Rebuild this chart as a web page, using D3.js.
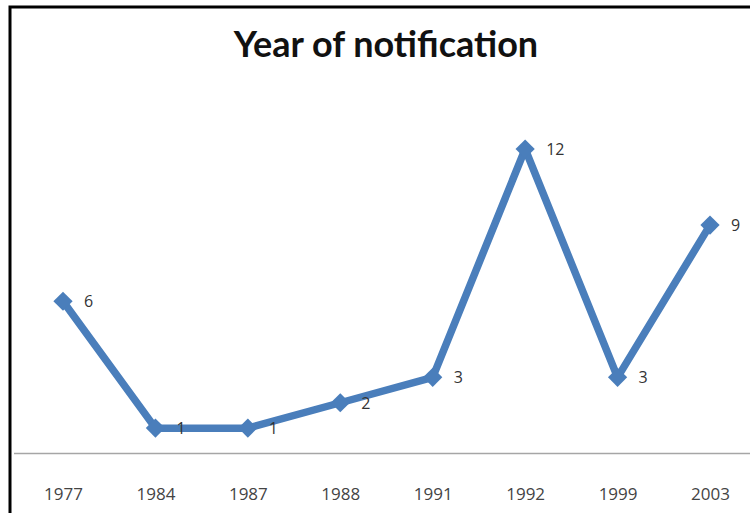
<!DOCTYPE html>
<html>
<head>
<meta charset="utf-8">
<script src="https://cdn.jsdelivr.net/npm/d3@7"></script>
<style>
  html, body { margin: 0; padding: 0; background: #fff; }
  svg { display: block; }
</style>
</head>
<body>
<svg id="chart" width="750" height="513"></svg>
<script>
// Notifications counted per year
const years = ["1977", "1984", "1987", "1988", "1991", "1992", "1999", "2003"];
const counts = [6, 1, 1, 2, 3, 12, 3, 9];
const chartTitle = "Year of notification";

const svg = d3.select("#chart");
const W = 750, H = 513;

// Frame: left and top edges of the chart area
svg.append("path")
  .attr("d", `M10,${H} L10,7 L${W},7`)
  .attr("fill", "none")
  .attr("stroke", "#000")
  .attr("stroke-width", 3);

const x = d3.scalePoint()
  .domain(years)
  .range([63, 710]);

const y = d3.scaleLinear()
  .domain([0, 12])
  .range([453.5, 149]);

// Title
svg.append("text")
  .attr("x", 386)
  .attr("y", 57)
  .attr("text-anchor", "middle")
  .attr("font-family", "Lato, 'Open Sans', sans-serif")
  .attr("font-weight", "bold")
  .attr("font-size", 36)
  .attr("fill", "#111")
  .text(chartTitle);

// Category axis
const xAxis = d3.axisBottom(x).tickSize(0).tickPadding(0);
const gx = svg.append("g")
  .attr("transform", `translate(0,${y(0)})`)
  .call(xAxis);
gx.select(".domain").remove();
gx.append("line")
  .attr("x1", 14).attr("x2", W)
  .attr("y1", 0).attr("y2", 0)
  .attr("stroke", "#a6a6a6")
  .attr("stroke-width", 1.5);
gx.selectAll(".tick text")
  .attr("dy", 0)
  .attr("y", 46)
  .attr("font-family", "'Liberation Sans Narrow', 'Open Sans', sans-serif")
  .attr("font-size", 17)
  .attr("fill", "#444");

const data = years.map((yr, i) => ({ year: yr, value: counts[i] }));

// Series line
const line = d3.line()
  .x(d => x(d.year))
  .y(d => y(d.value));

svg.append("path")
  .datum(data)
  .attr("d", line)
  .attr("fill", "none")
  .attr("stroke", "#4a7ebb")
  .attr("stroke-width", 7.5)
  .attr("stroke-linejoin", "round");

// Diamond markers: squares turned 45 degrees
const marker = d3.symbol().type(d3.symbolSquare).size(185);
svg.selectAll(".marker")
  .data(data)
  .join("path")
  .attr("class", "marker")
  .attr("transform", d => `translate(${x(d.year)},${y(d.value)}) rotate(45)`)
  .attr("d", marker)
  .attr("fill", "#4a7ebb");

// Value labels to the right of each point
svg.selectAll(".val")
  .data(data)
  .join("text")
  .attr("class", "val")
  .attr("x", d => x(d.year) + 21)
  .attr("y", d => y(d.value) + 6)
  .attr("font-family", "'Open Sans', sans-serif")
  .attr("font-size", 16)
  .attr("fill", "#333")
  .text(d => d.value);
</script>
</body>
</html>
